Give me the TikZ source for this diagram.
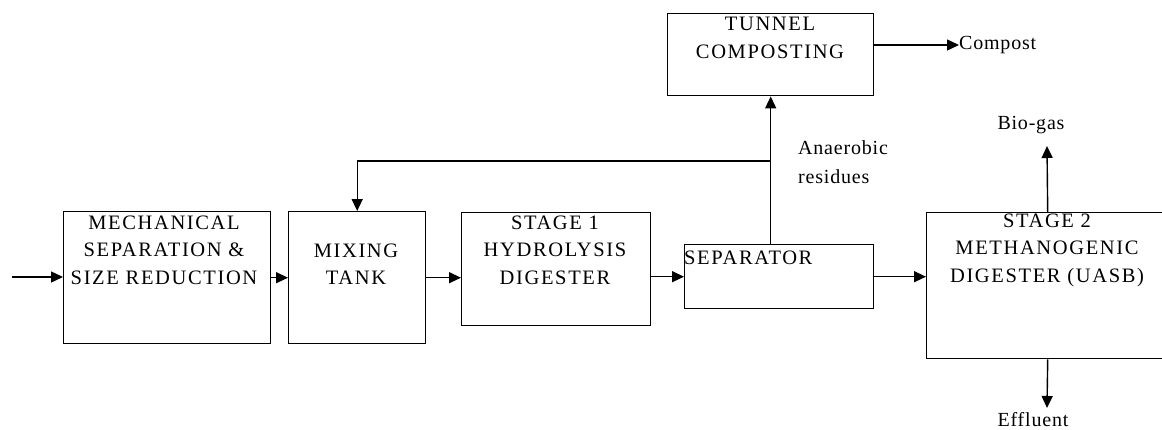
\documentclass[tikz,border=0pt]{standalone}
\usepackage{fontspec}
\setmainfont{Liberation Serif}
\newfontfamily\capsfont{Liberation Serif}[LetterSpace=8]
\newfontfamily\smallfont{Liberation Serif}[LetterSpace=4]
\usetikzlibrary{arrows.meta}
\begin{document}
\begin{tikzpicture}[x=1pt,y=-1pt,
  box/.style={draw,line width=1.4pt,anchor=north west,inner sep=0pt},
  lbl/.style={font=\capsfont\fontsize{20.5}{27.5}\selectfont,align=center,inner sep=0pt},
  slbl/.style={font=\smallfont\fontsize{20}{29}\selectfont,align=center,inner sep=0pt},
  arr/.style={line width=1.4pt,-{Triangle[length=12pt,width=11pt]}},
  ln/.style={line width=1.4pt}]
\useasboundingbox (0,0) rectangle (1162,429);
% boxes
\node[box,minimum width=207pt,minimum height=132pt] (mech) at (63,211) {};
\node[box,minimum width=137pt,minimum height=132pt] (mix) at (288,211) {};
\node[box,minimum width=189pt,minimum height=113pt] (s1) at (461,212) {};
\node[box,minimum width=189pt,minimum height=64pt] (sep) at (684,244) {};
\node[box,minimum width=242pt,minimum height=146pt] (s2) at (926,212) {};
\node[box,minimum width=206pt,minimum height=82pt] (tun) at (667,13) {};
% texts
\node[lbl] (mechT) at (164,250) {MECHANICAL\\SEPARATION \&\\SIZE REDUCTION};
\node[lbl] (mixT) at (356,264) {MIXING\\TANK};
\node[lbl] (s1T) at (555,250) {STAGE 1\\HYDROLYSIS\\DIGESTER};
\node[lbl,anchor=west] (sepT) at (684,258) {SEPARATOR};
\node[lbl] (s2T) at (1047,250) {STAGE 2\\METHANOGENIC\\DIGESTER (UASB)};
\node[lbl] (tunT) at (770,38) {TUNNEL\\COMPOSTING};
\node[slbl,align=left,anchor=west] (anT) at (798,162) {Anaerobic\\residues};
\node[slbl,anchor=west] (compost) at (959,45) {Compost};
\node[slbl] (bio) at (1031,125) {Bio-gas};
\node[slbl] (eff) at (1033,420) {Effluent};
% coordinates
\coordinate (in) at (12,277);
\coordinate (j) at (770,161);
\coordinate (bg) at (1047,146);
\coordinate (ef) at (1047,408);
% connectors
\draw[arr] (in) -- (in -| mech.west);
\draw[arr] (mech.east) -- (mix.west);
\draw[arr] (mix.east) -- (mix.east -| s1.west);
\draw[arr] (sep.west -| s1.east) -- (sep.west);
\draw[arr] (sep.east) -- (sep.east -| s2.west);
\draw[arr] (tun.south |- sep.north) -- (tun.south);
\draw[arr] (j) -| (mix.north);
\draw[arr] (compost.west -| tun.east) -- (compost.west);
\draw[arr] (s2.north) -- (bg);
\draw[arr] (s2.south) -- (ef);
\end{tikzpicture}
\end{document}
